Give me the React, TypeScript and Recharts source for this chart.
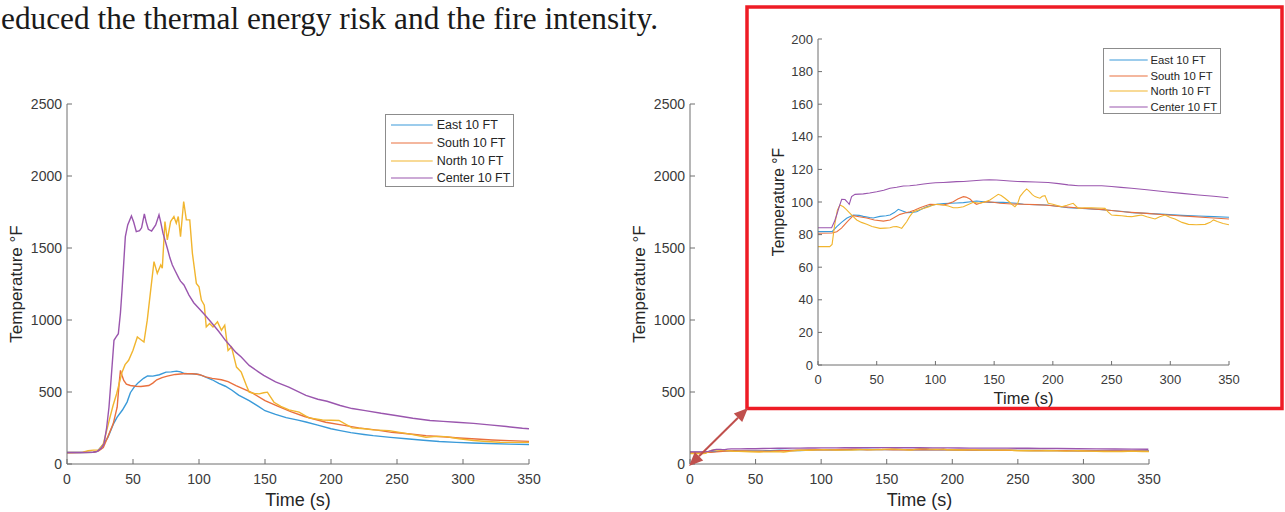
import React from 'react';
import { LineChart, Line, XAxis, YAxis, Legend } from 'recharts';

// ---------- data (time s, temperature °F) ----------
const xTicks = [0, 50, 100, 150, 200, 250, 300, 350];
const yTicksMain = [0, 500, 1000, 1500, 2000, 2500];
const yTicksInset = [0, 20, 40, 60, 80, 100, 120, 140, 160, 180, 200];

const seriesNames = ['East 10 FT', 'South 10 FT', 'North 10 FT', 'Center 10 FT'];
const seriesColors = ['#3A9AD9', '#E9703E', '#F1B52E', '#9A56AE'];

// Left chart (fire test)
const eastA = [[0,80],[10,80],[20,82],[23,88],[27,130],[31,185],[35,275],[38,325],[42,375],[45.5,430],[48,495],[51,535],[54,565],[58,595],[61,612],[65,610],[70,620],[75,638],[79,640],[83,645],[86,640],[89,628],[94,626],[98,625],[102,615],[106,600],[110,585],[115,560],[120,540],[125,512],[130,478],[138,440],[145,400],[150,370],[158,345],[166,322],[175,305],[181,292],[190,270],[200,245],[207,232],[215,218],[225,205],[232,197],[245,185],[257,175],[270,165],[282,156],[295,150],[307,146],[320,142],[335,138],[350,135]];
const southA = [[0,78],[10,79],[20,82],[24,92],[27.5,114],[31,190],[35,279],[38,394],[39.5,560],[40.5,650],[41.7,615],[43,580],[45,555],[48,545],[52,540],[56,538],[62,545],[65,562],[68,585],[72,600],[76,610],[82,622],[88,627],[95,627],[100,622],[105,605],[110,595],[117,585],[122,572],[128,545],[134,520],[140,495],[150,440],[160,400],[170,362],[180,330],[196,290],[210,268],[221,251],[235,235],[246,220],[260,208],[272,197],[285,189],[297,181],[310,174],[322,167],[335,162],[350,157]];
const northA = [[0,80],[12,82],[16,92],[20,96],[24,98],[27.5,139],[30,230],[32.6,325],[35,410],[37.6,488],[41.7,638],[44,690],[46.7,720],[50,790],[53.3,882],[55,870],[58.3,847],[60.8,999],[63.4,1208],[65.9,1405],[68.4,1324],[71,1382],[72.2,1359],[74.2,1684],[76,1556],[78.5,1684],[81,1719],[82.8,1672],[84.3,1719],[86,1579],[88.4,1823],[90.4,1695],[93,1695],[95,1463],[98,1254],[100,1231],[101.8,1138],[104,1103],[105.5,952],[108,976],[110.6,952],[114,987],[117,929],[119.5,964],[122,789],[124.6,813],[128.4,673],[132,638],[135.9,545],[138,499],[142,490],[145.5,487],[149,495],[151.8,499],[156.8,429],[162,400],[168.2,376],[175.8,360],[183.3,320],[193.5,306],[206,302],[216,251],[225,245],[232,237],[244,232],[252,220],[262,204],[272,186],[280,192],[287,190],[297,175],[308,163],[318,156],[328,151],[340,150],[350,150]];
const centerA = [[0,80],[10,80],[20,82],[23,88],[26,110],[28,139],[30,250],[31.8,394],[33.5,600],[35.6,859],[37,880],[38.9,905],[40.5,1050],[41.7,1208],[43,1400],[44.2,1579],[46,1660],[48.8,1723],[50.5,1680],[52.5,1614],[55,1620],[56.5,1640],[58.6,1737],[60,1680],[61.6,1630],[64.1,1618],[67.2,1660],[69.7,1730],[71,1680],[72.7,1603],[76,1498],[78,1430],[79.8,1382],[82,1340],[84.8,1289],[86,1270],[88.6,1243],[92.4,1173],[96,1120],[100,1080],[105,1030],[110,976],[115,920],[120,859],[128,775],[132,743],[138,685],[145,640],[149,615],[158,570],[168,534],[181,476],[190,450],[197,436],[207,406],[216,385],[226,371],[238,352],[249,337],[262,318],[275,302],[285,296],[295,290],[308,282],[320,272],[333,260],[345,248],[350,245]];

// Right chart / inset (suppressed test)
const eastB = [[0,81.8],[12,81.8],[16,84.9],[20,87.5],[24.4,90],[30,92],[35,91.8],[38.6,91.2],[44,90.5],[47,90.2],[52.8,91.2],[58,91.6],[61.3,92],[65,93.5],[68.4,95.5],[72,94.5],[75.5,93.5],[80,93.6],[84,94],[88,95.5],[92.6,97.1],[97,98],[101,98.6],[107,99],[112.4,99.2],[118,99.4],[123.8,99.6],[130,100.2],[135,100.6],[141,100.2],[146.4,99.8],[152,99.8],[157.7,99.8],[163,99.5],[169,99.2],[175,98.6],[185,98.4],[195,98.2],[205,97.2],[213,96.5],[225,96],[239,95.5],[250,94.8],[260,94.2],[267,93.5],[280,93],[295.6,92.4],[310,91.8],[324,91.4],[337,91],[350,90.6]];
const southB = [[0,80.8],[12,81],[16,81.8],[20,84],[25,88],[30,91.6],[35,91],[41.5,90.2],[48,89],[55.7,88.3],[61.3,89],[65,90.5],[69.8,92.4],[74,93.2],[78.4,94],[82,95],[86.9,96.5],[91,97.5],[95.4,98.6],[101,98.5],[106.7,98.2],[111,99],[115.2,100.2],[119,101.8],[123.8,103.3],[126,103],[129.4,101.8],[132,100],[135,98.6],[139,99.5],[143.6,100.2],[149,99.8],[155,99.2],[165,98.8],[174.8,98.6],[185,98.4],[195,98],[210,97],[225,96.2],[240,95.5],[250,94.8],[260,94],[270,93.5],[280,93],[295,92.2],[310,91.4],[320,91],[330,90.5],[340,90],[350,89.6]];
const northB = [[0,72.6],[10,72.6],[12,74],[14,85],[16.5,95],[18.7,98.2],[21.6,97.1],[24,95.5],[27.3,93],[30,91],[33,89],[37,87.5],[41.5,86.3],[46,85],[52.8,83.8],[57,84],[61.3,84.2],[64,84.8],[67,84.9],[69,84.5],[71.3,83.8],[73,85.5],[75.5,87.9],[78,91],[81.2,94],[85,95],[89.7,96],[94,97],[98.2,98.2],[102,98.6],[106.7,98.2],[111,97.5],[115.2,96.5],[119,96.5],[123.8,97.1],[128,98.5],[132.3,99.8],[135,99.5],[138,99.2],[142,100],[146.4,101.2],[150,103],[153.5,104.7],[156,104],[159.2,102.3],[163,100],[165,98.5],[167.7,97.1],[170,99],[172,103.3],[175,106],[177.7,108],[180,106.5],[182.5,104.5],[184.8,103.3],[187,102.8],[189,102.3],[191,103.5],[193.3,103.9],[196,99.2],[200,98.6],[207.4,97.1],[212,98],[217.3,99.2],[221.7,96.1],[227,96.5],[233,96.5],[238,96.3],[244.4,96.1],[247,94],[250,92],[254,91.8],[258.6,91.6],[263,91.2],[267,91],[271,91.5],[275.6,92],[280,91],[287,89.6],[291,91],[295.6,92],[300,90.5],[304,89.6],[310,87.5],[315.5,86.3],[322,86],[329.7,86.3],[334,87.5],[336.8,89],[340,88],[345,86.8],[350,86]];
const centerB = [[0,84.2],[11.6,84.2],[14,88],[15.9,92],[18,97],[20.2,101.6],[23,101.5],[25,100],[26.6,98.6],[28.6,103.3],[31.5,104.7],[38.6,105],[44,105.5],[50,106.3],[56,107.2],[61.3,108.4],[67,109],[72.7,109.8],[78,110],[84,110.4],[90,111],[95.4,111.5],[100,111.8],[106.7,112],[112,112.2],[118,112.5],[124,112.6],[129.4,112.9],[135,113.2],[140.7,113.5],[146,113.6],[152,113.5],[158,113.2],[163.4,112.9],[170,112.6],[174.9,112.5],[185,112.3],[196,112],[205,111.3],[213,110.5],[221.7,110],[232,110],[241.6,110],[250,109.5],[258,109],[267,108.4],[280,107.5],[295.6,106.3],[310,105.3],[324,104.3],[337,103.5],[349.5,102.6]];

const toPts = (arr: number[][]) => arr.map(([t, v]) => ({ t, v }));
const setA = [eastA, southA, northA, centerA].map(toPts);
const setB = [eastB, southB, northB, centerB].map(toPts);

const FONT = '"Liberation Sans", Arial, Helvetica, sans-serif';
const AXIS = '#6e6e6e';
const TXT = '#3a3a3a';

type LegendCfg = { left: number; top: number; w: number; h: number; fs: number; first: number; gap: number; lineStart: number; lineEnd: number; textStart: number };

const makeLegend = (cfg: LegendCfg) => () => (
  <div style={{ position: 'relative', width: cfg.w, height: cfg.h, border: '1px solid #8c8c8c', background: '#fff', boxSizing: 'border-box', fontFamily: FONT, fontSize: cfg.fs, color: '#262626' }}>
    {seriesNames.map((n, i) => (
      <div key={n} style={{ position: 'absolute', left: 0, top: cfg.first + i * cfg.gap - 8, height: 16, width: cfg.w }}>
        <svg width={cfg.lineEnd + 1} height={16} style={{ position: 'absolute', left: 0, top: 0 }}>
          <line x1={cfg.lineStart} x2={cfg.lineEnd} y1={8} y2={8} stroke={seriesColors[i]} strokeWidth={1.2} />
        </svg>
        <span style={{ position: 'absolute', left: cfg.textStart, top: 0, lineHeight: '16px', whiteSpace: 'nowrap' }}>{n}</span>
      </div>
    ))}
  </div>
);

type PanelProps = {
  width: number; height: number;
  margin: { top: number; right: number; bottom: number; left: number };
  yAxisWidth: number; xAxisHeight: number;
  yDomain: number[]; yTicks: number[];
  data: { t: number; v: number }[][];
  tickFs: number; xLabelFs: number; yLabelFs: number;
  tickSize: number; xTickMargin: number; yTickMargin: number;
  yLabelOffset: number; xLabelOffset: number;
  strokeWidth: number;
  legend?: LegendCfg;
};

function Panel(p: PanelProps) {
  const tickStyle = { fontSize: p.tickFs, fill: TXT, fontFamily: FONT };
  return (
    <LineChart width={p.width} height={p.height} margin={p.margin} style={{ fontFamily: FONT }}>
      <XAxis
        xAxisId={0} type="number" dataKey="t" domain={[0, 350]} ticks={xTicks} interval={0}
        height={p.xAxisHeight} tickSize={p.tickSize} tickMargin={p.xTickMargin}
        stroke={AXIS} tick={tickStyle} allowDataOverflow
        label={{ value: 'Time (s)', position: 'insideBottom', offset: p.xLabelOffset, style: { fontSize: p.xLabelFs, fill: '#262626', fontFamily: FONT } }}
      />
      <XAxis
        xAxisId="top" orientation="top" type="number" dataKey="t" domain={[0, 350]} ticks={xTicks} interval={0}
        height={0} tickSize={p.tickSize} stroke={AXIS} tickFormatter={() => ''} allowDataOverflow
      />
      <YAxis
        yAxisId={0} type="number" domain={p.yDomain} ticks={p.yTicks} interval={0}
        width={p.yAxisWidth} tickSize={p.tickSize} tickMargin={p.yTickMargin}
        stroke={AXIS} tick={tickStyle} allowDataOverflow
        label={{ value: 'Temperature °F', angle: -90, position: 'insideLeft', offset: p.yLabelOffset, style: { textAnchor: 'middle', fontSize: p.yLabelFs, fill: '#262626', fontFamily: FONT } }}
      />
      <YAxis
        yAxisId="right" orientation="right" type="number" domain={p.yDomain} ticks={p.yTicks} interval={0}
        width={0} tickSize={p.tickSize} stroke={AXIS} tickFormatter={() => ''} allowDataOverflow
      />
      {p.data.map((d, i) => (
        <Line
          key={seriesNames[i]} xAxisId={0} yAxisId={0} data={d} dataKey="v" name={seriesNames[i]}
          type="linear" stroke={seriesColors[i]} strokeWidth={p.strokeWidth} dot={false} activeDot={false}
          isAnimationActive={false}
        />
      ))}
      {p.legend && (
        <Legend
          layout="vertical" align="center" verticalAlign="middle"
          content={makeLegend(p.legend)}
          wrapperStyle={{ position: 'absolute', left: p.legend.left, top: p.legend.top, width: p.legend.w, height: p.legend.h, margin: 0, padding: 0 }}
        />
      )}
    </LineChart>
  );
}

export default function App() {
  return (
    <div style={{ position: 'fixed', left: 0, top: 0, width: 1285, height: 512, overflow: 'hidden', background: '#fff' }}>
      {/* left chart */}
      <div style={{ position: 'absolute', left: 0, top: 80, width: 560, height: 432 }}>
        <Panel
          width={560} height={432} margin={{ top: 24, right: 31, bottom: 0, left: 7 }}
          yAxisWidth={60} xAxisHeight={48} yDomain={[0, 2500]} yTicks={yTicksMain} data={setA}
          tickFs={14} xLabelFs={18} yLabelFs={17} tickSize={-5} xTickMargin={15} yTickMargin={10}
          yLabelOffset={8.5} xLabelOffset={6} strokeWidth={1.4}
          legend={{ left: 385, top: 34, w: 129, h: 73, fs: 12.5, first: 10.3, gap: 17.7, lineStart: 5, lineEnd: 46.7, textStart: 50.7 }}
        />
      </div>
      {/* right chart */}
      <div style={{ position: 'absolute', left: 623, top: 80, width: 560, height: 432 }}>
        <Panel
          width={560} height={432} margin={{ top: 24, right: 34, bottom: 0, left: 7 }}
          yAxisWidth={60} xAxisHeight={48} yDomain={[0, 2500]} yTicks={yTicksMain} data={setB}
          tickFs={14} xLabelFs={18} yLabelFs={17} tickSize={-5} xTickMargin={15} yTickMargin={10}
          yLabelOffset={9} xLabelOffset={6} strokeWidth={1.4}
        />
      </div>
      {/* inset */}
      <div style={{ position: 'absolute', left: 745, top: 5, width: 539, height: 405, background: '#fff' }} />
      <div style={{ position: 'absolute', left: 747, top: 7, width: 535, height: 401 }}>
        <Panel
          width={535} height={401} margin={{ top: 32, right: 53, bottom: 0, left: 16 }}
          yAxisWidth={55} xAxisHeight={43} yDomain={[0, 200]} yTicks={yTicksInset} data={setB}
          tickFs={13} xLabelFs={16.5} yLabelFs={15.7} tickSize={-4} xTickMargin={13.4} yTickMargin={9}
          yLabelOffset={15} xLabelOffset={4} strokeWidth={1.1}
          legend={{ left: 356, top: 41.3, w: 118, h: 66, fs: 11.3, first: 10.7, gap: 15.6, lineStart: 5.4, lineEnd: 43.7, textStart: 46.5 }}
        />
      </div>
      {/* overlay: page text, red frame, arrow */}
      <svg width={1285} height={512} style={{ position: 'absolute', left: 0, top: 0, pointerEvents: 'none' }}>
        <text x={1} y={28.5} fontFamily='"Liberation Serif", "Times New Roman", serif' fontSize={31.3} fill="#1a1a1a">educed the thermal energy risk and the fire intensity.</text>
        <rect x={747} y={7} width={535} height={401.5} fill="none" stroke="#EE1C25" strokeWidth={3.5} />
        <line x1={699} y1={456.2} x2={738} y2={417.8} stroke="#C0504D" strokeWidth={2} />
        <polygon points="748,408 742.2,422.1 733.8,413.5" fill="#C0504D" />
        <polygon points="689,466 703.2,460.5 694.8,451.9" fill="#C0504D" />
      </svg>
    </div>
  );
}
